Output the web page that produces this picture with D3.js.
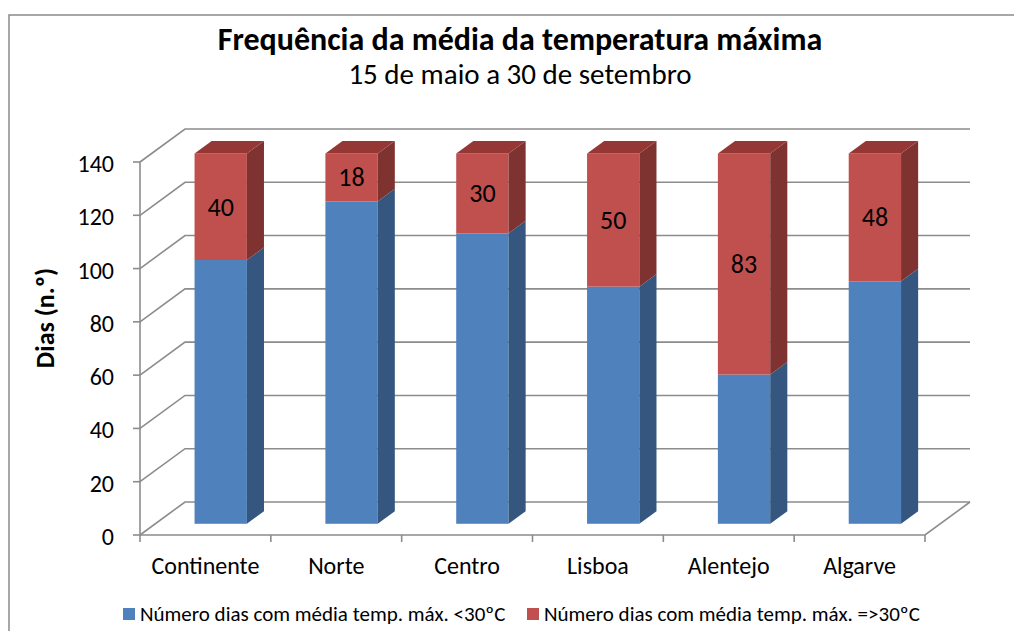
<!DOCTYPE html>
<html>
<head>
<meta charset="utf-8">
<script src="https://cdn.jsdelivr.net/npm/d3@7"></script>
<style>
  body { margin: 0; background: #fff; }
  svg { display: block; font-family: Carlito, Lato, "Open Sans", sans-serif; }
</style>
</head>
<body>
<svg id="chart" width="1014" height="631"></svg>
<script>
// data
const categories = ['Continente', 'Norte', 'Centro', 'Lisboa', 'Alentejo', 'Algarve'];
const below30 = [99, 121, 109, 89, 56, 91];
const above30 = [40, 18, 30, 50, 83, 48];
const yTicks = [0, 20, 40, 60, 80, 100, 120, 140];
const seriesNames = ['Número dias com média temp. máx. <30ºC', 'Número dias com média temp. máx. =>30ºC'];

const svg = d3.select('#chart');

// plot frame (front plane) + depth vector for the 3d look
const plotLeft = 140, plotRight = 925, plotBottom = 535, plotTop = 162;
const depthX = 45, depthY = -33;
const f1 = 0.34, f2 = 0.72; // front / back of bars, as part of the depth

let x = d3.scaleBand().domain(categories).range([plotLeft, plotRight]);
let y = d3.scaleLinear().domain([0, 140]).range([plotBottom, plotTop]);

// chart border
svg.append('rect')
    .attr('x', 9).attr('y', 15)
    .attr('width', 1100).attr('height', 700)
    .attr('fill', 'none').attr('stroke', '#8a8a8a').attr('stroke-width', 1.5);

// titles
svg.append('text').attr('x', 520).attr('y', 50)
    .attr('text-anchor', 'middle').attr('font-size', 32).attr('font-weight', 'bold')
    .text('Frequência da média da temperatura máxima');
svg.append('text').attr('x', 520).attr('y', 84)
    .attr('text-anchor', 'middle').attr('font-size', 29)
    .text('15 de maio a 30 de setembro');

// walls and gridlines
let grid = svg.append('g').attr('stroke', '#8c8c8c').attr('stroke-width', 1.6).attr('fill', 'none');

yTicks.forEach(function(v) {
    grid.append('polyline')
        .attr('points', `${plotLeft},${y(v)} ${plotLeft + depthX},${y(v) + depthY} ${plotRight + depthX},${y(v) + depthY}`);
});
// floor
grid.append('polyline')
    .attr('points', `${plotLeft},${plotBottom} ${plotRight},${plotBottom} ${plotRight + depthX},${plotBottom + depthY}`);
// value axis
grid.append('line').attr('x1', plotLeft).attr('x2', plotLeft).attr('y1', plotBottom).attr('y2', plotTop);

// y ticks
yTicks.forEach(function(v) {
    grid.append('line').attr('x1', plotLeft - 7).attr('x2', plotLeft).attr('y1', y(v)).attr('y2', y(v));
});
svg.append('g').selectAll('text').data(yTicks).join('text')
    .attr('x', 114).attr('y', d => y(d) + 10)
    .attr('text-anchor', 'end').attr('font-size', 24)
    .text(d => d);

// category ticks
d3.range(categories.length + 1).forEach(function(i) {
    let xx = plotLeft + i * x.bandwidth();
    grid.append('line').attr('x1', xx).attr('x2', xx).attr('y1', plotBottom).attr('y2', plotBottom + 7);
});
svg.append('g').selectAll('text').data(categories).join('text')
    .attr('x', d => x(d) + x.bandwidth() / 2)
    .attr('y', 574)
    .attr('text-anchor', 'middle').attr('font-size', 24)
    .text(d => d);

// y axis title
svg.append('text')
    .attr('transform', 'translate(54,318) rotate(-90)')
    .attr('text-anchor', 'middle').attr('font-size', 26).attr('font-weight', 'bold')
    .text('Dias (n.º)');

// bars
const colors = [
    { front: '#4f81bd', side: '#34567f', top: '#3f6797' },
    { front: '#c0504d', side: '#7f3331', top: '#953735' }
];

let barW = x.bandwidth() * 0.4;
let ox = depthX * f1, oy = depthY * f1;
let bx = depthX * (f2 - f1), by = depthY * (f2 - f1);

let bars = svg.append('g');

categories.forEach(function(c, i) {
    let x1 = x(c) + (x.bandwidth() - barW) / 2 + ox;
    let x2 = x1 + barW;
    let segs = [[0, below30[i]], [below30[i], below30[i] + above30[i]]];

    segs.forEach(function(s, k) {
        let yb = y(s[0]) + oy, yt = y(s[1]) + oy;
        let col = colors[k];
        bars.append('rect')
            .attr('x', x1).attr('y', yt).attr('width', barW).attr('height', yb - yt)
            .attr('fill', col.front);
        bars.append('polygon')
            .attr('points', `${x2},${yb} ${x2 + bx},${yb + by} ${x2 + bx},${yt + by} ${x2},${yt}`)
            .attr('fill', col.side);
        if (k == 1) {
            bars.append('polygon')
                .attr('points', `${x1},${yt} ${x2},${yt} ${x2 + bx},${yt + by} ${x1 + bx},${yt + by}`)
                .attr('fill', col.top);
            bars.append('text')
                .attr('x', (x1 + x2) / 2).attr('y', (yt + yb) / 2 + 9)
                .attr('text-anchor', 'middle').attr('font-size', 26)
                .text(above30[i]);
        }
    });
});

// legend
let legend = svg.append('g');
const legendX = [123, 527];
seriesNames.forEach(function(name, k) {
    legend.append('rect')
        .attr('x', legendX[k]).attr('y', 608).attr('width', 12).attr('height', 12)
        .attr('fill', colors[k].front);
    legend.append('text')
        .attr('x', legendX[k] + 17).attr('y', 621)
        .attr('font-size', 21)
        .text(name);
});
</script>
</body>
</html>
